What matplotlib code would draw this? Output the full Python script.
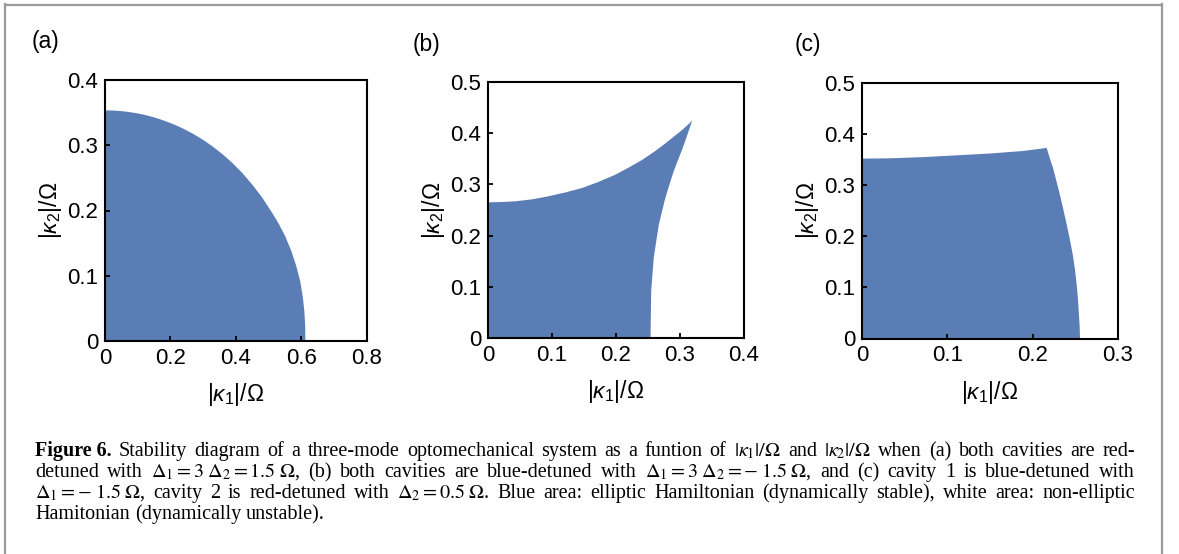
import matplotlib
matplotlib.use('Agg')
import matplotlib.pyplot as plt
from matplotlib.lines import Line2D
from matplotlib.ticker import FuncFormatter, MultipleLocator

plt.rcParams['font.family'] = ['Liberation Sans', 'DejaVu Sans']
plt.rcParams['mathtext.fontset'] = 'custom'
plt.rcParams['mathtext.rm'] = 'Liberation Sans'
plt.rcParams['mathtext.it'] = 'Liberation Sans:italic'
plt.rcParams['mathtext.bf'] = 'Liberation Sans:bold'

# ---------------- data ----------------
panel_labels = ['(a)', '(b)', '(c)']
xlims = [(0, 0.8), (0, 0.4), (0, 0.3)]
ylims = [(0, 0.4), (0, 0.5), (0, 0.5)]
xsteps = [0.2, 0.1, 0.1]
ysteps = [0.1, 0.1, 0.1]

# (a) boundary of stable region: from the k2 axis to the k1 axis
a_k1 = [0.0, 0.03, 0.06, 0.09, 0.12, 0.15, 0.18, 0.21, 0.24, 0.27, 0.30, 0.33,
        0.36, 0.39, 0.42, 0.45, 0.48, 0.51, 0.53, 0.55, 0.57, 0.585, 0.597,
        0.605, 0.610, 0.6125, 0.613]
a_k2 = [0.3535, 0.3531, 0.3518, 0.3497, 0.3467, 0.3428, 0.3379, 0.3321, 0.3253,
        0.3174, 0.3083, 0.2979, 0.2861, 0.2727, 0.2575, 0.2400, 0.2205, 0.1975,
        0.181, 0.162, 0.138, 0.115, 0.092, 0.068, 0.045, 0.022, 0.0]

# (b) upper edge then right edge
b_k1 = [0.0, 0.02, 0.043, 0.07, 0.095, 0.12, 0.147, 0.173, 0.199, 0.22, 0.241,
        0.26, 0.277, 0.29, 0.303, 0.311, 0.319,
        0.311, 0.303, 0.296, 0.290, 0.283, 0.277, 0.272, 0.267, 0.263, 0.259,
        0.257, 0.255, 0.2545, 0.254]
b_k2 = [0.265, 0.2655, 0.267, 0.271, 0.277, 0.284, 0.293, 0.305, 0.319, 0.333, 0.348,
        0.364, 0.380, 0.393, 0.406, 0.415, 0.4245,
        0.395, 0.367, 0.345, 0.325, 0.298, 0.273, 0.248, 0.222, 0.190, 0.157,
        0.125, 0.092, 0.050, 0.0]

# (c) upper edge then right edge
c_k1 = [0.0, 0.033, 0.072, 0.111, 0.150, 0.189, 0.2164,
        0.220, 0.224, 0.228, 0.232, 0.236, 0.240, 0.2437, 0.247, 0.2496, 0.2516,
        0.253, 0.254, 0.255, 0.2555]
c_k2 = [0.352, 0.3526, 0.355, 0.3585, 0.362, 0.367, 0.373,
        0.353, 0.333, 0.307, 0.281, 0.252, 0.2225, 0.193, 0.164, 0.135, 0.105,
        0.079, 0.053, 0.026, 0.0]

boundaries = [(a_k1, a_k2), (b_k1, b_k2), (c_k1, c_k2)]

caption_lines = [
    r"**Figure **6. Stability diagram of a three-mode optomechanical system as a funtion of $|\kappa_1|/\Omega$ and $|\kappa_2|/\Omega$ when (a) both cavities are red-",
    r"detuned with $\Delta_1=3\;\Delta_2=1.5\;\Omega$, (b) both cavities are blue-detuned with $\Delta_1=3\;\Delta_2=-\;1.5\;\Omega$, and (c) cavity 1 is blue-detuned with",
    r"$\Delta_1=-\;1.5\;\Omega$, cavity 2 is red-detuned with $\Delta_2=0.5\;\Omega$. Blue area: elliptic Hamiltonian (dynamically stable), white area: non-elliptic",
    r"Hamitonian (dynamically unstable).",
]

# ---------------- layout ----------------
W, H = 1179, 554
fig = plt.figure(figsize=(W / 100, H / 100), dpi=100)


def fx(px):
    return px / W


def fy(py):
    return 1 - py / H


# axes boxes in pixels: left, top, right, bottom
boxes = [(105, 80, 366.5, 341), (488, 82, 744, 338), (862, 83, 1118, 338.5)]
label_pos = [(32, 48), (413, 51), (795, 51)]
fill_color = '#5b7db5'

fmt = FuncFormatter(lambda v, p: '0' if abs(v) < 1e-9 else ('%g' % round(v, 3)))

for i, (l, t, r, b) in enumerate(boxes):
    ax = fig.add_axes([fx(l), fy(b), (r - l) / W, (b - t) / H])
    bx, by = boundaries[i]
    ax.fill([0.0] + bx + [0.0], [0.0] + by + [0.0], color=fill_color, lw=0)
    ax.set_xlim(*xlims[i])
    ax.set_ylim(*ylims[i])
    ax.xaxis.set_major_locator(MultipleLocator(xsteps[i]))
    ax.yaxis.set_major_locator(MultipleLocator(ysteps[i]))
    ax.xaxis.set_major_formatter(fmt)
    ax.yaxis.set_major_formatter(fmt)
    ax.tick_params(direction='in', length=3.5, width=1.3, top=False, right=False,
                   labelsize=16, pad=5, colors='black')
    for s in ax.spines.values():
        s.set_linewidth(1.5)
    ax.set_xlabel(r'$|\kappa_1|/\Omega$', fontsize=16.5, labelpad=9)
    ax.set_ylabel(r'$|\kappa_2|/\Omega$', fontsize=16.5, labelpad=2)
    lx, ly = label_pos[i]
    fig.text(fx(lx), fy(ly), panel_labels[i], fontsize=16.5, va='baseline', ha='left')

# outer frame (no bottom edge)
fc = '#9a9a9a'
fig.add_artist(Line2D([fx(5), fx(5)], [fy(4), fy(560)], color=fc, lw=1.6))
fig.add_artist(Line2D([fx(5), fx(1162)], [fy(4.5), fy(4.5)], color=fc, lw=1.6))
fig.add_artist(Line2D([fx(1162), fx(1162)], [fy(4), fy(560)], color=fc, lw=1.6))

# caption, justified word by word
cap_size = 14.5
x0, x1 = 35, 1135
baselines = [456, 477, 498, 519]
renderer = fig.canvas.get_renderer()
for li, line in enumerate(caption_lines):
    if line.startswith('**'):
        end = line.index('**', 2)
        bold_word = line[2:end].strip()
        rest = line[end + 2:]
        words = rest.split(' ')
        words[0] = bold_word + ' ' + words[0]
        bold_first = True
    else:
        words = line.split(' ')
        bold_first = False
    texts = []
    for wi, w in enumerate(words):
        t = fig.text(0, fy(baselines[li]), w, fontsize=cap_size,
                     family=['Liberation Serif', 'DejaVu Serif'],
                     weight='bold' if (bold_first and wi == 0) else 'normal',
                     math_fontfamily='stix', va='baseline', ha='left')
        texts.append(t)
    widths = [t.get_window_extent(renderer).width for t in texts]
    if li < len(caption_lines) - 1:
        gap = (x1 - x0 - sum(widths)) / (len(texts) - 1)
    else:
        gap = cap_size * 100 / 72 * 0.25
    x = x0
    for t, w in zip(texts, widths):
        t.set_x(fx(x))
        x += w + gap

fig.savefig('out.png', dpi=100)
